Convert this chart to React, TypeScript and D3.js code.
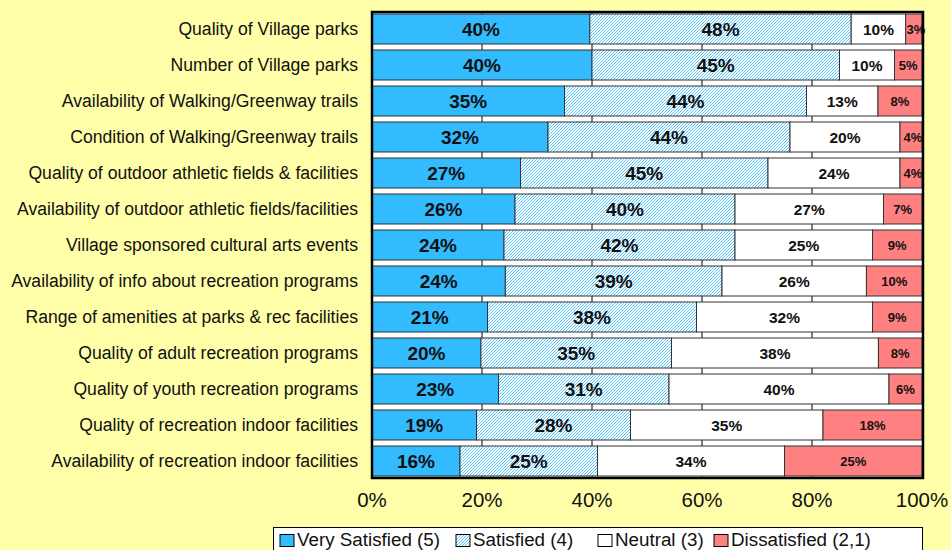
import React from "react";
import * as d3 from "d3";

const categories = [
  "Quality of Village parks",
  "Number of Village parks",
  "Availability of Walking/Greenway trails",
  "Condition of Walking/Greenway trails",
  "Quality of outdoor athletic fields & facilities",
  "Availability of outdoor athletic fields/facilities",
  "Village sponsored cultural arts events",
  "Availability of info about recreation programs",
  "Range of amenities at parks & rec facilities",
  "Quality of adult recreation programs",
  "Quality of youth recreation programs",
  "Quality of recreation indoor facilities",
  "Availability of recreation indoor facilities",
];

const verySatisfied = [40, 40, 35, 32, 27, 26, 24, 24, 21, 20, 23, 19, 16];
const satisfied = [48, 45, 44, 44, 45, 40, 42, 39, 38, 35, 31, 28, 25];
const neutral = [10, 10, 13, 20, 24, 27, 25, 26, 32, 38, 40, 35, 34];
const dissatisfied = [3, 5, 8, 4, 4, 7, 9, 10, 9, 8, 6, 18, 25];

const seriesNames = ["Very Satisfied (5)", "Satisfied (4)", "Neutral (3)", "Dissatisfied (2,1)"];
const tickValues = [0, 0.2, 0.4, 0.6, 0.8, 1];

const W = 951;
const H = 550;
const X0 = 372;
const X1 = 922;
const PLOT_TOP = 11;
const PLOT_BOTTOM = 477;

const BLUE = "#33BBFF";
const PINK = "#FF8080";
const BG = "#FFFFAA";
const FONT = "Arial, 'Liberation Sans', Helvetica, sans-serif";

const seriesValues = [verySatisfied, satisfied, neutral, dissatisfied];
const fills = [BLUE, "url(#hatch)", "#FFFFFF", PINK];
const labelSizes = [19, 19, 15.5, 13];

export default function App() {
  const x = d3.scaleLinear().domain([0, 1]).range([X0, X1]);
  const y = d3
    .scaleBand<string>()
    .domain(categories)
    .range([PLOT_TOP, PLOT_TOP + 36 * 13])
    .paddingInner(6 / 36)
    .paddingOuter(3 / 36);

  const rows = categories.map((c, i) => {
    const vals = seriesValues.map((s) => s[i]);
    const total = d3.sum(vals);
    let acc = 0;
    const segs = vals.map((v, k) => {
      const start = acc / total;
      acc += v;
      const end = acc / total;
      return { k, v, start, end };
    });
    return { c, segs };
  });

  const legendX = [280, 456, 598, 714];

  return (
    <svg
      width={W}
      height={H}
      style={{ position: "absolute", left: 0, top: 0, background: BG }}
      fontFamily={FONT}
    >
      <defs>
        <pattern id="hatch" patternUnits="userSpaceOnUse" width="3" height="3">
          <rect width="3" height="3" fill="#FFFFFF" />
          <path d="M-1,1 L1,-1 M0,3 L3,0 M2,4 L4,2" stroke={BLUE} strokeWidth="0.85" />
        </pattern>
        <clipPath id="plotclip">
          <rect x={X0} y={PLOT_TOP} width={X1 - X0 + 1} height={PLOT_BOTTOM - PLOT_TOP} />
        </clipPath>
      </defs>
      <rect x={0} y={0} width={W} height={H} fill={BG} />
      {/* plot area */}
      <rect x={X0} y={PLOT_TOP} width={X1 - X0} height={PLOT_BOTTOM - PLOT_TOP} fill="#FFFFFF" />
      {tickValues.slice(1, -1).map((t) => (
        <line key={t} x1={x(t)} x2={x(t)} y1={PLOT_TOP} y2={PLOT_BOTTOM} stroke="#000" strokeWidth={1} />
      ))}
      <g clipPath="url(#plotclip)">
        {rows.map((r) => (
          <g key={r.c}>
            {r.segs.map((s) => (
              <rect
                key={s.k}
                x={x(s.start)}
                y={y(r.c)!}
                width={x(s.end) - x(s.start)}
                height={y.bandwidth()}
                fill={fills[s.k]}
                stroke="#333"
                strokeWidth={1}
              />
            ))}
          </g>
        ))}
      </g>
      {rows.map((r) => (
        <g key={r.c + "-lab"}>
          {r.segs.map((s) => (
            <text
              key={s.k}
              x={(x(s.start) + x(s.end)) / 2 + (s.k === 3 && s.v < 5 ? 2 : 0)}
              y={y(r.c)! + y.bandwidth() / 2}
              dy="0.36em"
              textAnchor="middle"
              fontWeight="bold"
              fontSize={labelSizes[s.k]}
              fill="#111"
            >
              {s.v}%
            </text>
          ))}
          <text
            x={358}
            y={y(r.c)! + y.bandwidth() / 2}
            dy="0.36em"
            textAnchor="end"
            fontSize={17.6}
            fill="#111"
          >
            {r.c}
          </text>
        </g>
      ))}
      {/* frame */}
      <rect
        x={X0}
        y={PLOT_TOP + 1}
        width={X1 - X0 + 1}
        height={PLOT_BOTTOM - PLOT_TOP}
        fill="none"
        stroke="#000"
        strokeWidth={2.5}
      />
      {/* axis ticks */}
      {tickValues.map((t) => (
        <text key={t} x={x(t)} y={507} textAnchor="middle" fontSize={20.5} fill="#111">
          {d3.format(".0%")(t)}
        </text>
      ))}
      {/* legend */}
      <rect x={273.5} y={527.5} width={649} height={40} fill="#FFFFFF" stroke="#000" strokeWidth={1} />
      {seriesNames.map((n, k) => (
        <g key={n}>
          <rect
            x={legendX[k]}
            y={534.5}
            width={14}
            height={12}
            fill={fills[k]}
            stroke="#000"
            strokeWidth={1}
          />
          <text x={legendX[k] + 17} y={545.5} fontSize={18.8} fill="#111">
            {n}
          </text>
        </g>
      ))}
    </svg>
  );
}
